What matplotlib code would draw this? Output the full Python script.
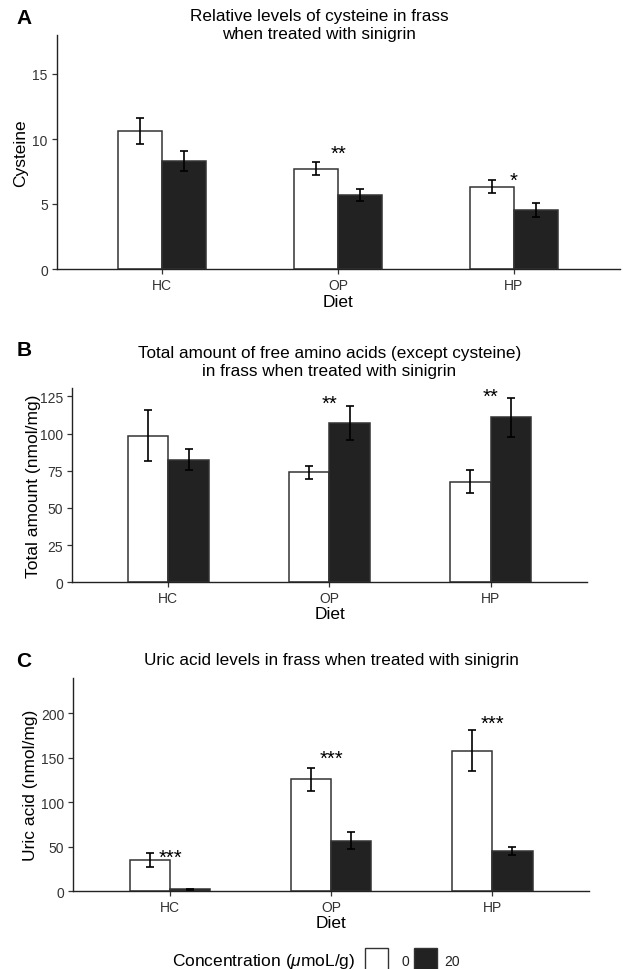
import numpy as np
import matplotlib
matplotlib.use("Agg")
import matplotlib.pyplot as plt
import matplotlib.transforms as mtransforms
from matplotlib.patches import Rectangle

# ---------------- data ----------------
diets = ["HC", "OP", "HP"]
concentrations = ["0", "20"]

cys_0 = [10.65, 7.72, 6.33]
cys_0_err = [1.0, 0.48, 0.49]
cys_20 = [8.28, 5.67, 4.56]
cys_20_err = [0.77, 0.45, 0.55]
cys_sig = ["", "**", "*"]
cys_sig_y = [np.nan, 8.9, 6.85]

aa_0 = [98.5, 73.9, 67.6]
aa_0_err = [17.3, 4.6, 7.7]
aa_20 = [82.4, 107.1, 110.9]
aa_20_err = [7.0, 11.5, 13.0]
aa_sig = ["", "**", "**"]
aa_sig_y = [np.nan, 120.5, 125.0]

uric_0 = [35.2, 125.8, 158.0]
uric_0_err = [7.7, 13.0, 22.8]
uric_20 = [2.2, 57.0, 45.6]
uric_20_err = [0.6, 9.7, 4.6]
uric_sig = ["***", "***", "***"]
uric_sig_y = [38.5, 149.0, 188.5]

titles = ["Relative levels of cysteine in frass\nwhen treated with sinigrin",
          "Total amount of free amino acids (except cysteine)\nin frass when treated with sinigrin",
          "Uric acid levels in frass when treated with sinigrin"]
ylabels = ["Cysteine", "Total amount (nmol/mg)", "Uric acid (nmol/mg)"]
yticks = [[0, 5, 10, 15], [0, 25, 50, 75, 100, 125], [0, 50, 100, 150, 200]]
ytops = [18.0, 130.4, 239.3]
letters = ["A", "B", "C"]

# ---------------- style ----------------
plt.rcParams["font.family"] = ["Liberation Sans", "DejaVu Sans"]
plt.rcParams["mathtext.fontset"] = "custom"
plt.rcParams["mathtext.rm"] = "Liberation Sans"
plt.rcParams["mathtext.it"] = "Liberation Sans:italic"

W, H = 623, 970
fig = plt.figure(figsize=(W / 100, H / 100), dpi=100)
fig.patch.set_facecolor("white")

px = mtransforms.Affine2D().scale(1 / W, -1 / H).translate(0, 1) + fig.transFigure

# panel geometry in pixels: left, right, top, bottom
panels = [(56.7, 619.5, 36.0, 270.0),
          (71.7, 587.3, 389.3, 583.3),
          (73.3, 589.0, 679.3, 892.3)]
title_y = [(16.7, 35.0), (353.3, 371.7), (660.7,)]
title_x = [319.0, 329.5, 331.0]
letter_y = [19.0, 350.0, 661.5]
xlabel_y = [303.0, 615.0, 924.0]
ylabel_x = [21.0, 33.7, 31.0]

data = [(cys_0, cys_0_err, cys_20, cys_20_err, cys_sig, cys_sig_y),
        (aa_0, aa_0_err, aa_20, aa_20_err, aa_sig, aa_sig_y),
        (uric_0, uric_0_err, uric_20, uric_20_err, uric_sig, uric_sig_y)]

x = np.arange(1, len(diets) + 1)
bw = 0.25

for i, (l, r, t, b) in enumerate(panels):
    ax = fig.add_axes([l / W, 1 - b / H, (r - l) / W, (b - t) / H])
    v0, e0, v20, e20, sig, sigy = data[i]
    ax.bar(x - bw / 2, v0, width=bw, color="white", edgecolor="#333333",
           linewidth=1.1, zorder=2, label=concentrations[0])
    ax.bar(x + bw / 2, v20, width=bw, color="#222222", edgecolor="#333333",
           linewidth=1.1, zorder=2, label=concentrations[1])
    ax.errorbar(x - bw / 2, v0, yerr=e0, fmt="none", ecolor="black",
                elinewidth=1.2, capsize=3.2, capthick=1.2, zorder=3)
    ax.errorbar(x + bw / 2, v20, yerr=e20, fmt="none", ecolor="black",
                elinewidth=1.2, capsize=3.2, capthick=1.2, zorder=3)
    for xi, s, sy in zip(x, sig, sigy):
        if s:
            ax.text(xi, sy, s, ha="center", va="center", fontsize=14.5,
                    color="black", zorder=4)
    ax.set_xlim(0.4, 3.6)
    ax.set_ylim(0, ytops[i])
    ax.set_xticks(x)
    ax.set_xticklabels(diets)
    ax.set_yticks(yticks[i])
    ax.tick_params(axis="both", length=3.8, width=0.9, color="#333333",
                   labelcolor="#333333", labelsize=10, pad=2.6)
    for sp in ["top", "right"]:
        ax.spines[sp].set_visible(False)
    for sp in ["left", "bottom"]:
        ax.spines[sp].set_linewidth(1.0)
        ax.spines[sp].set_color("#222222")
    ax.set_xlabel("Diet", fontsize=12.5, color="black")
    ax.xaxis.set_label_coords((l + r) / 2, xlabel_y[i], transform=px)
    ax.xaxis.label.set_va("center")
    ax.set_ylabel(ylabels[i], fontsize=12.5, color="black")
    ax.yaxis.set_label_coords(ylabel_x[i], (t + b) / 2, transform=px)
    ax.yaxis.label.set_va("center")
    # title
    lines = titles[i].split("\n")
    for ln, ty in zip(lines, title_y[i]):
        fig.text(title_x[i] / W, 1 - ty / H, ln, ha="center", va="center",
                 fontsize=12.3, color="black")
    fig.text(24 / W, 1 - letter_y[i] / H, letters[i], ha="center", va="center",
             fontsize=15, fontweight="bold", color="black")

# ---------------- legend ----------------
fig.text(355 / W, 1 - 961.7 / H, r"Concentration ($\mu$moL/g)", ha="right",
         va="center", fontsize=12.5, color="black")
key_fills = ["white", "#222222"]
key_x = [365.0, 414.0]
lab_x = [401.7, 444.0]
for kx, fc, lx, lab in zip(key_x, key_fills, lab_x, concentrations):
    fig.patches.append(Rectangle((kx / W, 1 - 976 / H), 22.5 / W, 27 / H,
                                 transform=fig.transFigure, facecolor=fc,
                                 edgecolor="#333333", linewidth=1.0))
    fig.text(lx / W, 1 - 962 / H, lab, ha="left", va="center", fontsize=10,
             color="#222222")

fig.savefig("out.png", dpi=100, facecolor="white")
